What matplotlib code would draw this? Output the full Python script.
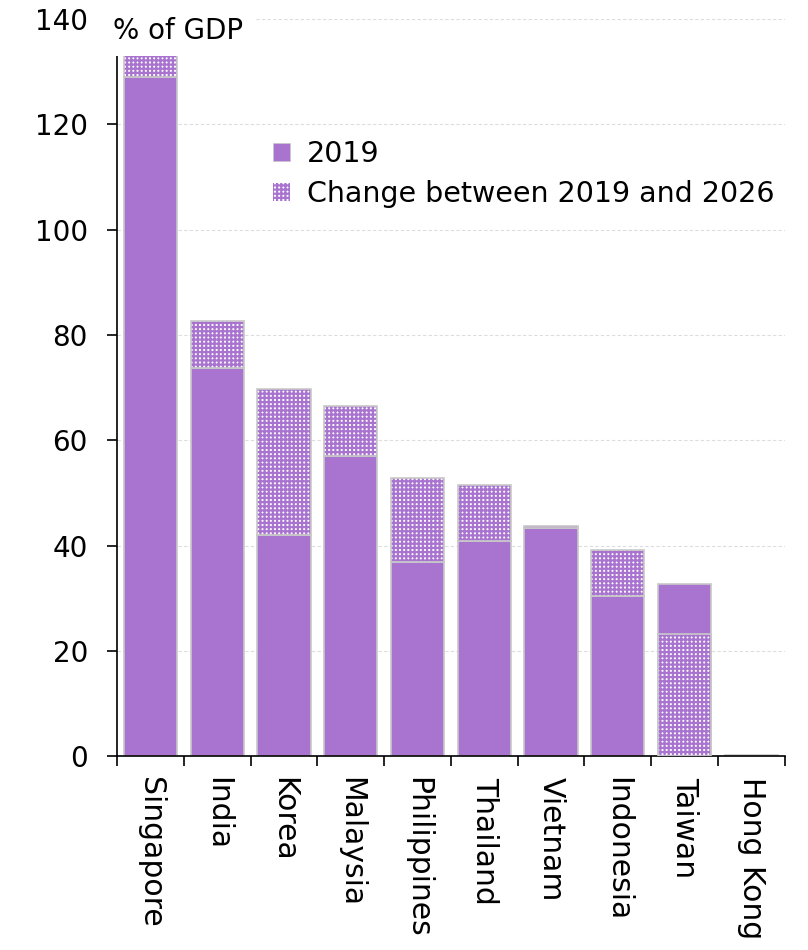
import numpy as np
import matplotlib
matplotlib.use("Agg")
from matplotlib import pyplot as plt
from matplotlib.patches import Patch

# data (% of GDP)
countries = ["Singapore", "India", "Korea", "Malaysia", "Philippines",
             "Thailand", "Vietnam", "Indonesia", "Taiwan", "Hong Kong"]
debt_2019 = [129.0, 73.7, 42.1, 57.1, 36.8, 40.8, 43.3, 30.4, 32.7, 0.3]
change_19_26 = [6.0, 8.9, 27.6, 9.5, 16.0, 10.7, 0.5, 8.7, -9.4, 0.0]
yticks = [0, 20, 40, 60, 80, 100, 120, 140]

purple = "#A974CF"
edge = "#C8C8C8"

plt.rcParams["font.family"] = "DejaVu Sans"
plt.rcParams["hatch.linewidth"] = 1.6

fig = plt.figure(figsize=(8.08, 9.5), dpi=100)
ax = fig.add_axes([0.145, 0.204, 0.826, 0.776])

x = np.arange(len(countries))
d19 = np.array(debt_2019)
chg = np.array(change_19_26)
w = 0.8

# 2019 level
ax.bar(x, d19, w, color=purple, edgecolor=edge, linewidth=1.2, zorder=2)

# change: stacked on top if positive, otherwise the 2026 level shown from zero
h_bot = np.where(chg >= 0, d19, 0)
h_hgt = np.where(chg >= 0, chg, d19 + chg)
mask = h_hgt > 0
# white base with a purple grid -> white dots on purple
ax.bar(x[mask], h_hgt[mask], w, bottom=h_bot[mask], color="white",
       edgecolor=purple, hatch="++++", linewidth=0, zorder=3)
ax.bar(x[mask], h_hgt[mask], w, bottom=h_bot[mask], fill=False,
       edgecolor=edge, linewidth=1.2, zorder=4)

ax.set_xlim(-0.5, len(countries) - 0.5)
ax.set_ylim(0, 140)
ax.set_yticks(yticks)
ax.tick_params(axis="y", labelsize=20, length=7, width=1.2, pad=14)
ax.set_xticks(x)
ax.set_xticklabels(countries, rotation=-90, fontsize=21.5, va="top", ha="center")
ax.set_xticks(np.arange(len(countries) + 1) - 0.5, minor=True)
ax.tick_params(axis="x", which="major", length=0, pad=15)
ax.tick_params(axis="x", which="minor", length=7, width=1.2)

for s in ["top", "right"]:
    ax.spines[s].set_visible(False)
ax.spines["left"].set_linewidth(1.2)
ax.spines["bottom"].set_linewidth(1.2)

ax.yaxis.grid(True, color="#DDDDDD", linestyle=(0, (3, 2)), linewidth=0.8, zorder=0)
ax.set_axisbelow(True)

# label with a white box that hides the top of the axis
ax.text(-0.56, 137.8, "% of GDP", fontsize=20, ha="left", va="center",
        zorder=10, clip_on=False,
        bbox=dict(facecolor="white", edgecolor="none", pad=8))

handles = [Patch(facecolor=purple, edgecolor=edge, linewidth=0.5),
           Patch(facecolor="white", edgecolor=purple, hatch="++++", linewidth=0)]
ax.legend(handles, ["2019", "Change between 2019 and 2026"], loc="upper left",
          bbox_to_anchor=(0.195, 0.87), frameon=False, fontsize=20.5,
          handlelength=0.6, handleheight=0.6, handletextpad=0.6, labelspacing=0.4)

fig.savefig("out.png", dpi=100)
